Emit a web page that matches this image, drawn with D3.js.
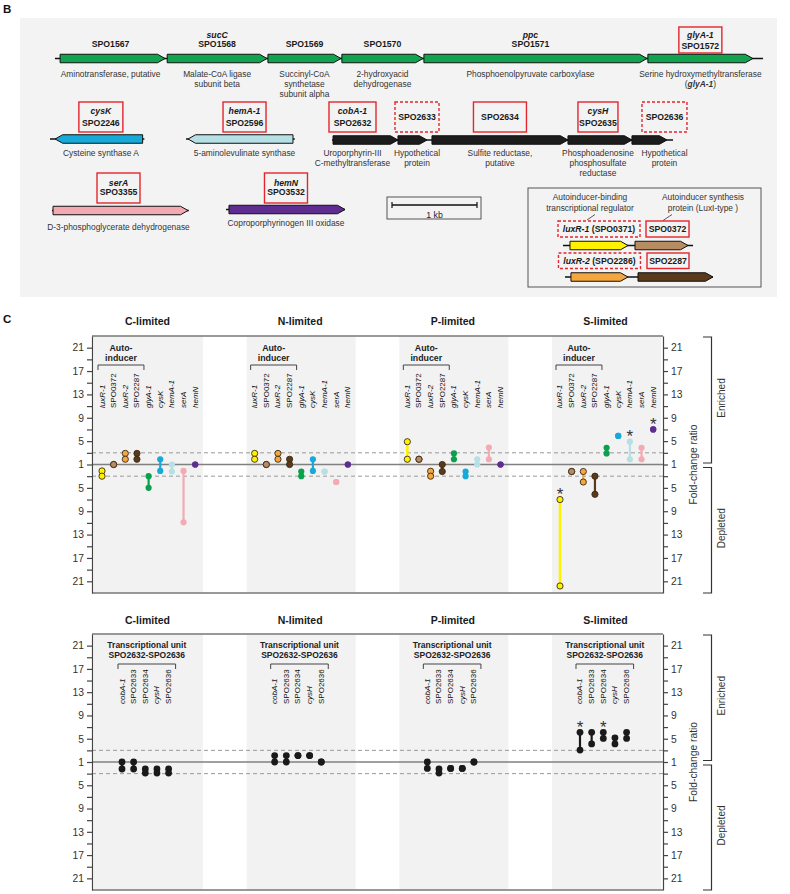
<!DOCTYPE html>
<html><head><meta charset="utf-8">
<script src="https://cdn.jsdelivr.net/npm/d3@7"></script>
<style>body{margin:0;background:#fff}svg text{font-family:"Liberation Sans",Arial,Helvetica,sans-serif}</style>
</head><body>
<svg id="c" width="790" height="894"></svg>
<script>
// ================= DATA =================
// Panel B: gene clusters (bp from cluster start; start = 5' end)
const clusterA_ids   = ["SPO1567","SPO1568","SPO1569","SPO1570","SPO1571","SPO1572"];
const clusterA_names = ["","sucC","","","ppc","glyA-1"];
const clusterA_start = [60,1320,2505,3375,4340,6975];
const clusterA_end   = [1295,2495,3365,4330,6965,8210];
const clusterA_box   = ["none","none","none","none","none","solid"];
const clusterA_desc  = [["Aminotransferase, putative"],["Malate-CoA ligase","subunit beta"],["Succinyl-CoA","synthetase","subunit alpha"],["2-hydroxyacid","dehydrogenase"],["Phosphoenolpyruvate carboxylase"],["Serine hydroxymethyltransferase","(*glyA-1*)"]];
const clusterA_span  = [0,8330];

const cysK_ids=["SPO2246"], cysK_names=["cysK"], cysK_start=[1090], cysK_end=[60], cysK_box=["solid"], cysK_desc=[["Cysteine synthase A"]], cysK_span=[0,1110];
const hemA_ids=["SPO2596"], hemA_names=["hemA-1"], hemA_start=[1259], hemA_end=[24], hemA_box=["solid"], hemA_desc=[["5-aminolevulinate synthase"]], hemA_span=[0,1280];

const unit_ids   = ["SPO2632","SPO2633","SPO2634","SPO2635","SPO2636"];
const unit_names = ["cobA-1","","","cysH",""];
const unit_start = [12,776,1176,2776,3529];
const unit_end   = [776,1118,2776,3529,3941];
const unit_box   = ["solid","dashed","solid","solid","dashed"];
const unit_desc  = [["Uroporphyrin-III","C-methyltransferase"],["Hypothetical","protein"],["Sulfite reductase,","putative"],["Phosphoadenosine","phosphosulfate","reductase"],["Hypothetical","protein"]];
const unit_span  = [0,4012];

const serA_ids=["SPO3355"], serA_names=["serA"], serA_start=[12], serA_end=[1600], serA_box=["solid"], serA_desc=[["D-3-phosphoglycerate dehydrogenase"]], serA_span=[0,1610];
const hemN_ids=["SPO3532"], hemN_names=["hemN"], hemN_start=[35], hemN_end=[1400], hemN_box=["solid"], hemN_desc=[["Coproporphyrinogen III oxidase"]], hemN_span=[0,1400];

const lux1_ids=["SPO0371","SPO0372"], lux1_names=["luxR-1",""], lux1_start=[82,847], lux1_end=[765,1471], lux1_box=["dashed","solid"], lux1_span=[0,1530];
const lux2_ids=["SPO2286","SPO2287"], lux2_names=["luxR-2",""], lux2_start=[70,859], lux2_end=[741,1741], lux2_box=["dashed","solid"], lux2_span=[0,1741];
const scaleBarBp = 1000;

// Panel C
const conditions = ["C-limited","N-limited","P-limited","S-limited"];
const groupGenes = ["luxR-1","SPO0372","luxR-2","SPO2287","glyA-1","cysK","hemA-1","serA","hemN"];
// fold-change ratio of the two replicates (positive = enriched, negative = depleted)
const groupC = [[-2.1,-3.0],[1,1],[2.9,1.9],[2.9,1.9],[-3.0,-5.0],[1.9,-2.1],[1,-2.2],[-2.1,-10.9],[1,1]];
const groupN = [[2.9,1.9],[1,1],[2.9,1.9],[1.9,1],[-2.2,-3.0],[1.9,-2.1],[-2.2,-2.2],[-4.0,-4.0],[1,1]];
const groupP = [[4.9,1.9],[1.9,1.9],[-2.15,-3.0],[1,-2.2],[2.9,1.9],[-2.2,-3.0],[1.9,1],[3.9,1.9],[1,1]];
const groupS = [[-7.0,-21.8],[-2.2,-2.2],[-2.2,-4.0],[-3.0,-6.1],[3.85,2.9],[5.9,5.9],[4.9,1.9],[3.85,1.9],[7.0,7.0]];
const groupStarsS = ["luxR-1","hemA-1","hemN"];

const unitGenes = ["cobA-1","SPO2633","SPO2634","cysH","SPO2636"];
const unitC = [[1,-2.2],[1,-2.2],[-2.2,-2.9],[-2.2,-2.9],[-2.2,-2.9]];
const unitN = [[2.1,1],[2.1,1],[2.1,2.1],[2.1,2.1],[1,1]];
const unitP = [[1,-2.1],[-2.2,-2.9],[-2.1,-2.1],[-2.1,-2.1],[1,1]];
const unitS = [[6.1,3.05],[6.1,4.1],[6.1,5.05],[5.15,4.1],[6.1,5.05]];
const unitStarsS = ["cobA-1","SPO2634"];

const majorTickFolds = [21,17,13,9,5,1,-5,-9,-13,-17,-21];
const minorTickFolds = [19,15,11,7,3,-3,-7,-11,-15,-19];

// ================= STYLE / LAYOUT =================
const geneFill = {SPO1567:"#12a34f",SPO1568:"#12a34f",SPO1569:"#12a34f",SPO1570:"#12a34f",SPO1571:"#12a34f",SPO1572:"#12a34f",
  SPO2246:"#17a9d8",SPO2596:"#b7e0e4",SPO2632:"#1c1c1c",SPO2633:"#1c1c1c",SPO2634:"#1c1c1c",SPO2635:"#1c1c1c",SPO2636:"#1c1c1c",
  SPO3355:"#f3a9b1",SPO3532:"#5e2d8f",SPO0371:"#fff200",SPO0372:"#b88c62",SPO2286:"#f5a73f",SPO2287:"#5b3a1c"};
const dotColor = d3.scaleOrdinal().domain(groupGenes).range(["#fff200","#b88c62","#f5a73f","#5b3a1c","#0aa14e","#17a9d8","#b7e0e4","#f3aab2","#5e2d8f"]);
const outlined = new Set(["luxR-1","SPO0372","luxR-2","SPO2287"]);
const labelDx = {SPO1567:-2,SPO1571:-5,SPO2246:2,SPO2596:4,SPO2632:-13,SPO2633:4.5,SPO2635:-2,SPO2636:15,SPO3355:-2,SPO3532:-1,SPO0372:6,SPO2287:-7.5};
const boxW = {SPO1572:43,SPO2246:44,SPO2596:43,SPO2632:47,SPO2633:44,SPO2634:53,SPO2635:40,SPO2636:45,SPO3355:43,SPO3532:43,SPO0371:82,SPO0372:43,SPO2286:82,SPO2287:42};
const idDy = {SPO1572:2.5};
const RED = "#e3262d";
const LBL = 8.7, DESC = 8.4;

const svg = d3.select("#c");
const px = d3.scaleLinear().domain([0,1000]).range([0,85]);

function rich(sel,str){
  str.split("*").forEach((p,i)=>{ if(!p) return; const t=sel.append("tspan").text(p); if(i%2===1) t.attr("font-style","italic").attr("font-weight","bold"); });
}
function arrowPath(x1,x2,cy,h,head){
  const dir = x2>x1?1:-1, len=Math.abs(x2-x1), hd=Math.min(head,len*0.45), xb=x2-dir*hd;
  return `M${x1},${cy-h/2}L${xb},${cy-h/2}L${x2},${cy}L${xb},${cy+h/2}L${x1},${cy+h/2}Z`;
}

// ---------- Panel B ----------
svg.append("text").attr("x",3).attr("y",13).attr("font-size",11.5).attr("font-weight","bold").attr("fill","#111").text("B");
svg.append("rect").attr("x",20).attr("y",18).attr("width",757).attr("height",279).attr("fill","#f3f3f3");
const gB = svg.append("g");

function drawCluster(c){
  const g = gB.append("g");
  const X = bp => c.origin + px(bp);
  g.append("line").attr("x1",X(c.span[0])).attr("x2",X(c.span[1])).attr("y1",c.cy).attr("y2",c.cy).attr("stroke","#111").attr("stroke-width",1.3);
  c.ids.forEach((id,i)=>{
    const x1=X(c.start[i]), x2=X(c.end[i]);
    g.append("path").attr("d",arrowPath(x1,x2,c.cy,8.5,7.5)).attr("fill",geneFill[id]).attr("stroke","#111").attr("stroke-width",1);
    const cx=(x1+x2)/2+(labelDx[id]||0);
    const name=c.names[i], box=c.box[i];
    if(box!=="none"){
      const w=boxW[id]||44;
      g.append("rect").attr("x",cx-w/2).attr("y",c.boxTop).attr("width",w).attr("height",c.boxH)
        .attr("fill","none").attr("stroke",RED).attr("stroke-width",1.4).attr("stroke-dasharray",box==="dashed"?"3,2":null);
    }
    if(c.single){
      const t=g.append("text").attr("x",cx).attr("y",c.lineY).attr("text-anchor","middle").attr("font-size",LBL).attr("font-weight","bold").attr("fill","#1a1a1a");
      if(name){ t.append("tspan").attr("font-style","italic").text(name); t.append("tspan").text(" ("+id+")"); } else t.text(id);
    } else if(name){
      g.append("text").attr("x",cx).attr("y",c.nameY).attr("text-anchor","middle").attr("font-size",LBL).attr("font-weight","bold").attr("font-style","italic").attr("fill","#1a1a1a").text(name);
      g.append("text").attr("x",cx).attr("y",c.idY+(idDy[id]||0)).attr("text-anchor","middle").attr("font-size",LBL).attr("font-weight","bold").attr("fill","#1a1a1a").text(id);
    } else {
      const yy = box!=="none" ? (c.nameY+c.idY)/2+0.5 : c.idY;
      g.append("text").attr("x",cx).attr("y",yy).attr("text-anchor","middle").attr("font-size",LBL).attr("font-weight","bold").attr("fill","#1a1a1a").text(id);
    }
    if(c.desc){
      c.desc[i].forEach((line,k)=>{
        const t=g.append("text").attr("x",cx).attr("y",c.descY+k*10.4).attr("text-anchor","middle").attr("font-size",DESC).attr("fill","#333");
        rich(t,line);
      });
    }
  });
}
drawCluster({ids:clusterA_ids,names:clusterA_names,start:clusterA_start,end:clusterA_end,box:clusterA_box,desc:clusterA_desc,span:clusterA_span,
  origin:55,cy:58.5,nameY:37.5,idY:46.5,boxTop:27,boxH:26,descY:76.5});
const row2={nameY:113.5,idY:125.5,boxTop:102,boxH:30,descY:155.5};
drawCluster(Object.assign({ids:cysK_ids,names:cysK_names,start:cysK_start,end:cysK_end,box:cysK_box,desc:cysK_desc,span:cysK_span,origin:50,cy:139},row2));
drawCluster(Object.assign({ids:hemA_ids,names:hemA_names,start:hemA_start,end:hemA_end,box:hemA_box,desc:hemA_desc,span:hemA_span,origin:186,cy:139},row2));
drawCluster(Object.assign({ids:unit_ids,names:unit_names,start:unit_start,end:unit_end,box:unit_box,desc:unit_desc,span:unit_span,origin:332,cy:140},row2));
drawCluster({ids:serA_ids,names:serA_names,start:serA_start,end:serA_end,box:serA_box,desc:serA_desc,span:serA_span,origin:52,cy:210.5,nameY:185.5,idY:195,boxTop:173,boxH:30,descY:229.5});
drawCluster({ids:hemN_ids,names:hemN_names,start:hemN_start,end:hemN_end,box:hemN_box,desc:hemN_desc,span:hemN_span,origin:226,cy:209.5,nameY:185.5,idY:195,boxTop:173,boxH:30,descY:226});

// scale bar
gB.append("rect").attr("x",387).attr("y",197).attr("width",94).attr("height",22).attr("fill","none").attr("stroke","#555").attr("stroke-width",1);
{
  const x0=392, x1=x0+px(scaleBarBp);
  gB.append("line").attr("x1",x0).attr("x2",x1).attr("y1",205).attr("y2",205).attr("stroke","#111").attr("stroke-width",1.4);
  [x0,x1].forEach(x=>gB.append("line").attr("x1",x).attr("x2",x).attr("y1",202).attr("y2",208).attr("stroke","#111").attr("stroke-width",1.2));
  gB.append("text").attr("x",(x0+x1)/2).attr("y",217.5).attr("text-anchor","middle").attr("font-size",8.8).attr("fill","#222").text("1 kb");
}
// legend box
gB.append("rect").attr("x",528).attr("y",188).attr("width",233).attr("height",99).attr("fill","none").attr("stroke","#555").attr("stroke-width",1);
[["Autoinducer-binding","transcriptional regulator",590],["Autoinducer synthesis","protein (LuxI-type )",703]].forEach(d=>{
  gB.append("text").attr("x",d[2]).attr("y",200).attr("text-anchor","middle").attr("font-size",DESC).attr("fill","#333").text(d[0]);
  gB.append("text").attr("x",d[2]).attr("y",210.5).attr("text-anchor","middle").attr("font-size",DESC).attr("fill","#333").text(d[1]);
});
gB.append("line").attr("x1",595).attr("y1",214.5).attr("x2",587).attr("y2",220).attr("stroke","#333").attr("stroke-width",0.8);
gB.append("line").attr("x1",672).attr("y1",214.5).attr("x2",663).attr("y2",220.5).attr("stroke","#333").attr("stroke-width",0.8);
drawCluster({ids:lux1_ids,names:lux1_names,start:lux1_start,end:lux1_end,box:lux1_box,span:lux1_span,origin:563,cy:245.5,single:true,lineY:232.3,boxTop:221,boxH:16});
drawCluster({ids:lux2_ids,names:lux2_names,start:lux2_start,end:lux2_end,box:lux2_box,span:lux2_span,origin:565,cy:277,single:true,lineY:263.8,boxTop:253,boxH:15.5});

// ---------- Panel C ----------
svg.append("text").attr("x",3).attr("y",323).attr("font-size",11.5).attr("font-weight","bold").attr("fill","#111").text("C");
const plotL=92, plotR=663;
const band = d3.scaleBand().domain(conditions).range([94,661]).paddingInner(0.286).paddingOuter(0);
const toPos = v => v>=1 ? v-1 : (v<=-1 ? v+1 : 0);

function drawPlot(cfg){
  const g = svg.append("g");
  const y = d3.scaleLinear().domain([-22,22]).range([cfg.bottom,cfg.top]);
  conditions.forEach(c=>g.append("text").attr("x",band(c)+band.bandwidth()/2-1).attr("y",cfg.titleY).attr("text-anchor","middle")
    .attr("font-size",10.5).attr("font-weight","bold").attr("fill","#1a1a1a").text(c));
  conditions.forEach(c=>g.append("rect").attr("x",band(c)).attr("y",cfg.top).attr("width",Math.min(band.bandwidth(),plotR-band(c))).attr("height",cfg.bottom-cfg.top).attr("fill","#f2f2f2"));
  [2,-2].forEach(p=>g.append("line").attr("x1",plotL).attr("x2",plotR).attr("y1",y(p)).attr("y2",y(p)).attr("stroke","#9a9a9a").attr("stroke-width",1).attr("stroke-dasharray","4,3"));
  g.append("line").attr("x1",plotL).attr("x2",plotR).attr("y1",y(0)).attr("y2",y(0)).attr("stroke","#808080").attr("stroke-width",1.3);
  [cfg.top,cfg.bottom].forEach(yy=>g.append("line").attr("x1",plotL).attr("x2",plotR).attr("y1",yy).attr("y2",yy).attr("stroke","#777").attr("stroke-width",1.6));
  const fmt = p => String(Math.round(Math.abs(p)+1));
  const major = majorTickFolds.map(toPos), minor = minorTickFolds.map(toPos);
  const styleAxis = a => { a.selectAll("path,line").attr("stroke","#444").attr("stroke-width",1.2); a.selectAll("text").attr("font-size",10.3).attr("fill","#333").attr("font-family",'"Liberation Sans",Arial,sans-serif'); };
  const aL = g.append("g").attr("transform",`translate(${plotL},0)`).call(d3.axisLeft(y).tickValues(major).tickFormat(fmt).tickSize(5).tickSizeOuter(0).tickPadding(3)); styleAxis(aL);
  const mL = g.append("g").attr("transform",`translate(${plotL},0)`).call(d3.axisLeft(y).tickValues(minor).tickFormat("").tickSize(5)); mL.select(".domain").remove(); styleAxis(mL);
  const aR = g.append("g").attr("transform",`translate(${plotR},0)`).call(d3.axisRight(y).tickValues(major).tickFormat(fmt).tickSize(5).tickSizeOuter(0).tickPadding(3)); styleAxis(aR);
  const mR = g.append("g").attr("transform",`translate(${plotR},0)`).call(d3.axisRight(y).tickValues(minor).tickFormat("").tickSize(5)); mR.select(".domain").remove(); styleAxis(mR);
  g.append("text").attr("transform",`translate(693,${y(0)}) rotate(-90)`).attr("text-anchor","middle").attr("dominant-baseline","central").attr("font-size",10.3).attr("fill","#333").text("Fold-change ratio");
  const br = (y1,y2,label)=>{
    g.append("path").attr("d",`M703,${y1}H711.5V${y2}H703`).attr("fill","none").attr("stroke","#333").attr("stroke-width",1.2);
    g.append("text").attr("transform",`translate(721,${(y1+y2)/2-2}) rotate(-90)`).attr("text-anchor","middle").attr("dominant-baseline","central").attr("font-size",10).attr("fill","#333").text(label);
  };
  br(cfg.top+1,y(0)-1.5,"Enriched");
  br(y(0)+3,cfg.bottom,"Depleted");
  const col = d3.scalePoint().domain(cfg.genes).range([0,cfg.colSpan]);
  conditions.forEach((c,ci)=>{
    const x0 = band(c)+cfg.colOffset;
    const bx1 = x0+col(cfg.genes[0])-4, bx2 = x0+col(cfg.genes[cfg.bracketLast])+7;
    g.append("path").attr("d",`M${bx1},${cfg.bracketY+5}V${cfg.bracketY}H${bx2}V${cfg.bracketY+5}`).attr("fill","none").attr("stroke","#444").attr("stroke-width",1);
    cfg.bracketText.forEach((t,k)=>g.append("text").attr("x",(bx1+bx2)/2).attr("y",cfg.bracketTextY+k*10).attr("text-anchor","middle").attr("font-size",cfg.bracketFont).attr("font-weight","bold").attr("fill","#222").text(t));
    cfg.genes.forEach((gn,j)=>{
      const x = x0+col(gn);
      g.append("text").attr("transform",`translate(${x},${cfg.labelY}) rotate(-90)`).attr("dominant-baseline","central")
        .attr("font-size",8).attr("fill","#111").attr("font-style",gn.startsWith("SPO")?null:"italic").text(gn);
      const vals = cfg.data[ci][j];
      const ys = vals.map(v=>y(toPos(v)));
      const fill = cfg.black ? "#1a1a1a" : dotColor(gn);
      const r = cfg.black ? 3.4 : 3.1;
      if(Math.abs(ys[0]-ys[1])>0.5) g.append("line").attr("x1",x).attr("x2",x).attr("y1",ys[0]).attr("y2",ys[1]).attr("stroke",fill).attr("stroke-width",gn==="luxR-1"?2.6:2.2);
      ys.forEach(yy=>g.append("circle").attr("cx",x).attr("cy",yy).attr("r",r).attr("fill",fill)
        .attr("stroke",(!cfg.black && outlined.has(gn))?"#3a2a14":"none").attr("stroke-width",0.9));
      if(c==="S-limited" && cfg.stars.includes(gn)){
        g.append("text").attr("x",x).attr("y",Math.min(...ys)+0.5).attr("text-anchor","middle").attr("font-size",17).attr("fill","#333").text("*");
      }
    });
  });
}
drawPlot({top:336,bottom:593,titleY:325,genes:groupGenes,data:[groupC,groupN,groupP,groupS],stars:groupStarsS,
  colOffset:8,colSpan:93.2,labelY:408,bracketY:365,bracketLast:3,bracketText:["Auto-","inducer"],bracketTextY:350.5,bracketFont:8.8});
drawPlot({top:634,bottom:890,titleY:624,genes:unitGenes,data:[unitC,unitN,unitP,unitS],stars:unitStarsS,black:true,
  colOffset:28,colSpan:46.6,labelY:704,bracketY:664,bracketLast:4,bracketText:["Transcriptional unit","SPO2632-SPO2636"],bracketTextY:647.5,bracketFont:8.5});
</script>
</body></html>
